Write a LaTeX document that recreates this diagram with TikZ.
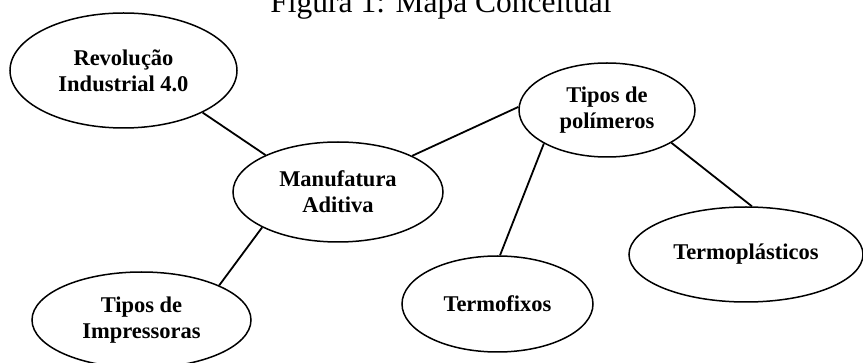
\documentclass[tikz,border=0pt]{standalone}
\usepackage{fontspec}
\setmainfont{Liberation Serif}
\usetikzlibrary{shapes.geometric}
\begin{document}
\begin{tikzpicture}[x=1pt,y=-1pt,
  concept/.style={ellipse, draw, line width=1.5pt, fill=white, inner sep=0pt,
    align=center, font=\bfseries\fontsize{22.5}{26}\selectfont},
  link/.style={line width=1.8pt}]
\useasboundingbox (0,0) rectangle (863,363);
\clip (0,0) rectangle (863,363);
\node[anchor=base, font=\fontsize{31.5}{36}\selectfont] (title) at (441,13) {Figura 1: Mapa Conceitual};
\node[concept, minimum width=227pt, minimum height=115pt] (rev) at (123.5,70.5) {Revolução\\Industrial 4.0};
\node[concept, minimum width=176pt, minimum height=94pt] (pol) at (607,110) {Tipos de\\polímeros};
\node[concept, minimum width=210pt, minimum height=100pt] (man) at (338,192) {Manufatura\\Aditiva};
\node[concept, minimum width=219pt, minimum height=96pt] (imp) at (141.5,320) {Tipos de\\Impressoras};
\node[concept, minimum width=191pt, minimum height=96pt] (fix) at (497.5,304) {Termofixos};
\node[concept, minimum width=234pt, minimum height=95pt] (pla) at (746,254.5) {Termoplásticos};
\draw[link] (man.153) -- (rev.332);
\draw[link] (man.26) -- (pol.178);
\draw[link] (man.205.6) -- (imp.24.6);
\draw[link] (pol.208) -- (fix.87);
\draw[link] (pol.333) -- (pla.83);
\end{tikzpicture}
\end{document}
